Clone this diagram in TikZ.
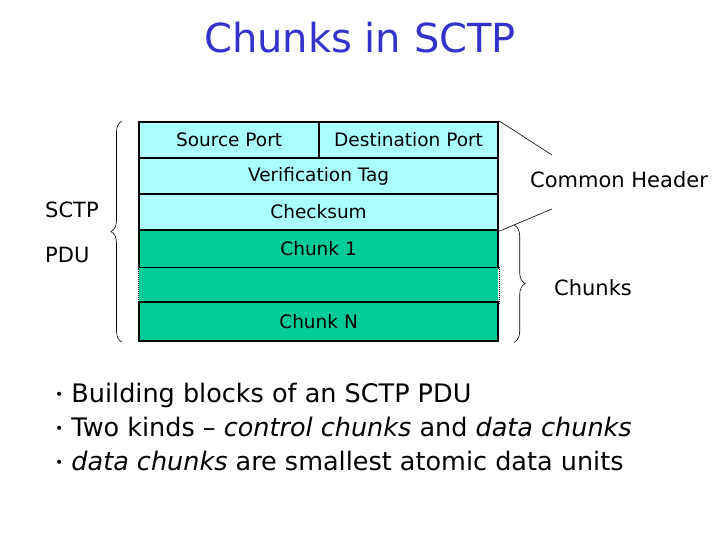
\documentclass[tikz,border=0pt]{standalone}
\usepackage{fontspec}
\setmainfont{DejaVu Sans}
\usepackage{tikz}
\usetikzlibrary{positioning, decorations.pathreplacing}
\definecolor{hdrcyan}{RGB}{170,255,255}
\definecolor{chunkgreen}{RGB}{0,204,153}
\definecolor{titleblue}{RGB}{51,51,204}
\newcommand{\smallbul}{\raisebox{3pt}{\fontsize{14}{14}\selectfont\textbullet}\hspace{8pt}}
\tikzset{
  field/.style={draw=black, line width=2.2pt, inner sep=0pt, anchor=north west,
    font=\fontsize{18.5}{22}\selectfont},
  hdrfield/.style={field, fill=hdrcyan},
  chunkfield/.style={field, fill=chunkgreen},
  lbl/.style={font=\fontsize{21}{25}\selectfont, inner sep=0pt},
}

\begin{document}
\begin{tikzpicture}[x=1pt, y=-1pt]
  \useasboundingbox[fill=white] (0,0) rectangle (720,540);
  % title
  \node[titleblue, font=\fontsize{40}{46}\selectfont] (title) at (360,38) {Chunks in SCTP};
  % common header
  \node[hdrfield, minimum width=180pt, minimum height=36pt] (src) at (138,121) {Source Port};
  \node[hdrfield, minimum width=179pt, minimum height=36pt] (dst) at (318,121) {Destination Port};
  \node[hdrfield, minimum width=359pt, minimum height=36pt] (vtag) at (138,157) {Verification Tag};
  \node[hdrfield, minimum width=359pt, minimum height=36pt] (csum) at (138,193) {Checksum};
  % chunks
  \node[chunkfield, minimum width=359pt, minimum height=38pt] (chunk1) at (138,229) {Chunk 1};
  \node[field, draw=none, fill=chunkgreen, minimum width=359pt, minimum height=34pt] (gap) at (138,267) {};
  \draw[densely dotted, line width=1pt] (gap.north west) -- (gap.south west)
    (gap.north east) -- (gap.south east);
  \node[chunkfield, minimum width=359pt, minimum height=39pt] (chunkN) at (138,301) {Chunk N};
  % braces and labels
  \draw[decorate, decoration={brace, amplitude=11pt}, line width=0.6pt]
    ([xshift=-16pt]chunkN.south west) -- ([xshift=-16pt]src.north west);
  \node[lbl, anchor=west] (sctp) at (45,210) {SCTP};
  \node[lbl, anchor=west] (pdu) at (45,255) {PDU};
  \draw[decorate, decoration={brace, amplitude=11pt}, line width=0.6pt]
    ([xshift=15pt,yshift=4pt]chunk1.north east) -- ([xshift=15pt]chunkN.south east);
  \node[lbl, anchor=west] (chunks) at (554,288) {Chunks};
  \node[lbl, anchor=west] (common) at (530,180) {Common Header};
  \coordinate (hdrtop) at (552,155);
  \coordinate (hdrbot) at (552,209);
  \draw[line width=0.6pt] (dst.north east) -- (hdrtop);
  \draw[line width=0.6pt] (csum.south east) -- (hdrbot);
  % bullets
  \node[anchor=west, align=left, font=\fontsize{25.5}{34}\selectfont, inner sep=0pt] (bullets) at (55,427)
    {\smallbul Building blocks of an SCTP PDU\\
     \smallbul Two kinds -- \textit{control chunks} and \textit{data chunks}\\
     \smallbul\textit{data chunks} are smallest atomic data units};
\end{tikzpicture}
\end{document}
